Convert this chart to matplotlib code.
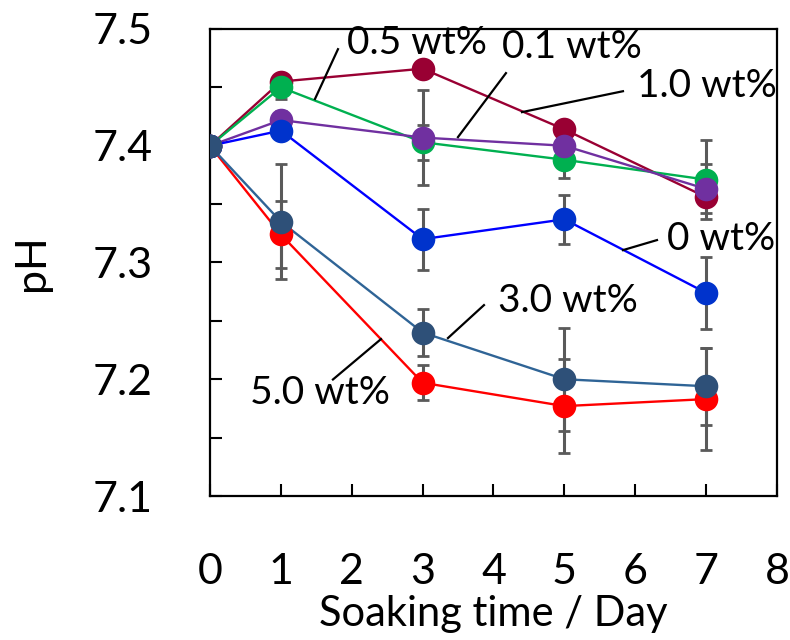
import matplotlib
matplotlib.use("Agg")
import matplotlib.pyplot as plt
from matplotlib.ticker import MultipleLocator

plt.rcParams['font.family'] = ['Lato', 'DejaVu Sans']

# soaking time (days)
dias = [0, 1, 3, 5, 7]

# pH for each additive content (wt%)
ph_0 = [7.400, 7.413, 7.320, 7.337, 7.274]
ph_01 = [7.400, 7.422, 7.407, 7.400, 7.363]
ph_05 = [7.400, 7.450, 7.403, 7.388, 7.371]
ph_10 = [7.400, 7.455, 7.466, 7.414, 7.356]
ph_30 = [7.400, 7.335, 7.240, 7.200, 7.194]
ph_50 = [7.400, 7.324, 7.197, 7.177, 7.183]

# standard deviations
dp_0 = [0, 0.004, 0.026, 0.021, 0.031]
dp_01 = [0, 0.008, 0.041, 0.003, 0.021]
dp_05 = [0, 0.010, 0.015, 0.016, 0.034]
dp_10 = [0, 0.004, 0.004, 0.004, 0.004]
dp_30 = [0, 0.049, 0.020, 0.044, 0.033]
dp_50 = [0, 0.029, 0.015, 0.040, 0.044]

# label texts, label anchor and leader line ends (data coords)
rotulos = ['0.5 wt%', '0.1 wt%', '1.0 wt%', '0 wt%', '3.0 wt%', '5.0 wt%']
rotulo_x = [1.93, 4.12, 6.02, 6.45, 4.06, 0.56]
rotulo_y = [7.488, 7.485, 7.451, 7.320, 7.267, 7.188]
linha_x0 = [1.806, 4.176, 5.827, 6.307, 3.866, 1.735]
linha_y0 = [7.4827, 7.4622, 7.4467, 7.3192, 7.2635, 7.1998]
linha_x1 = [1.481, 3.499, 4.402, 5.827, 3.358, 2.413]
linha_y1 = [7.440, 7.4074, 7.4288, 7.3106, 7.2353, 7.2344]

# drawing order: bottom to top
series = [
    (ph_50, dp_50, '#FF0000', '#FF0000'),
    (ph_10, dp_10, '#990033', '#990033'),
    (ph_05, dp_05, '#00B050', '#00B050'),
    (ph_01, dp_01, '#7030A0', '#7030A0'),
    (ph_0, dp_0, '#0000FF', '#0033CC'),
    (ph_30, dp_30, '#2F6496', '#2E5078'),
]

fig = plt.figure(figsize=(7.9, 6.4), dpi=100)
ax = fig.add_axes([0.2658, 0.225, 0.7177, 0.7297])

for valores, erros, cor_linha, cor_marca in series:
    ax.errorbar(dias, valores, yerr=erros, fmt='none', ecolor='#5A5A5A',
                elinewidth=2.2, capsize=4, capthick=2, zorder=1)
for valores, erros, cor_linha, cor_marca in series:
    ax.plot(dias, valores, '-', color=cor_linha, lw=1.7, zorder=2)
    ax.plot(dias, valores, 'o', color=cor_marca, ms=17, mew=0, zorder=3)

for i, texto in enumerate(rotulos):
    ax.plot([linha_x0[i], linha_x1[i]], [linha_y0[i], linha_y1[i]],
            color='black', lw=1.6, zorder=4, clip_on=False)
    ax.text(rotulo_x[i], rotulo_y[i], texto, fontsize=28, ha='left',
            va='center', zorder=5)

ax.set_xlim(0, 8)
ax.set_ylim(7.1, 7.5)
ax.xaxis.set_major_locator(MultipleLocator(1))
ax.yaxis.set_minor_locator(MultipleLocator(0.05))
ax.set_yticks([7.1, 7.2, 7.3, 7.4, 7.5])
ax.set_yticklabels(['7.1', '7.2', '7.3', '7.4', '7.5'])

ax.tick_params(axis='x', direction='in', length=9, width=1.5, pad=41,
               labelsize=31, top=False)
ax.tick_params(axis='y', which='both', direction='in', length=8.5, width=1.5,
               pad=41, labelsize=31, right=False)

for lado in ax.spines.values():
    lado.set_linewidth(1.6)

ax.set_xlabel('Soaking time / Day', fontsize=30, labelpad=3)
ax.set_ylabel('pH', fontsize=31, labelpad=30)

fig.savefig('out.png', dpi=100)
